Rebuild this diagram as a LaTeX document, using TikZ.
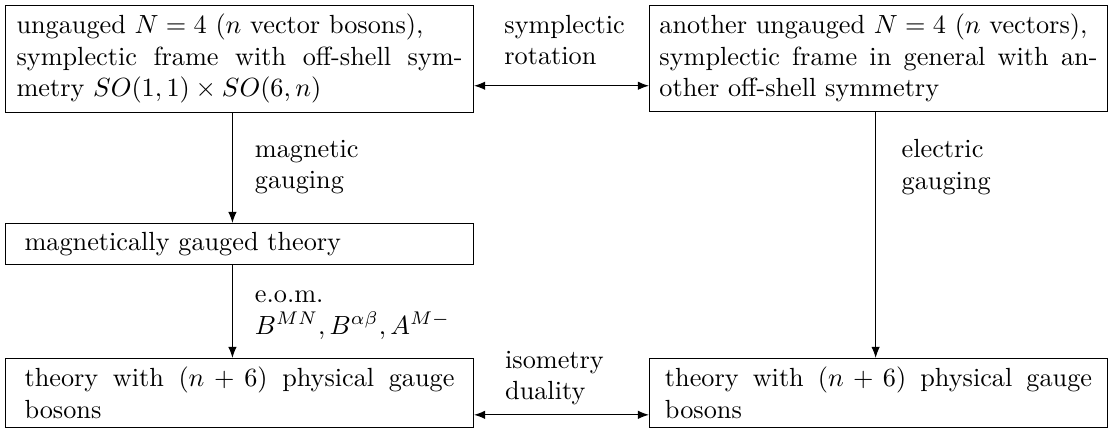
\documentclass[tikz,border=0pt]{standalone}
\usepackage{amsmath,amssymb}
\usepackage{tikz}
\usetikzlibrary{positioning,arrows.meta}

\begin{document}
\begin{tikzpicture}[
        box/.style={draw, anchor=north west, align=justify, inner sep=3.33pt, line width=0.4pt},
        lbl/.style={anchor=west, align=left},
        arrow/.style={-{Latex[length=4.2pt,width=3.2pt]}, line width=0.4pt},
        dblarrow/.style={{Latex[length=4.2pt,width=3.2pt]}-{Latex[length=4.2pt,width=3.2pt]}, line width=0.4pt}
    ]
    \useasboundingbox (0,0) rectangle (14.85,-5.825);

    % top row
    \node[box, minimum width=178.3pt, text width=169.9pt] (ungauged) at (0.067,-0.067) {
        ungauged $N=4$ ($n$ vector bosons),\\
        symplectic frame with off-shell sym-\linebreak
        metry $SO(1,1)\times SO(6,n)$
    };
    \node[box, minimum width=174.5pt, text width=166.9pt] (another) at (8.69,-0.067) {
        another ungauged $N=4$ ($n$ vectors),\\
        symplectic frame in general with an-\linebreak
        other off-shell symmetry
    };

    % left column
    \node[box, align=left, minimum width=178.3pt, text width=163.8pt] (magtheory) at (0.067,-2.986) {magnetically gauged theory};
    \node[box, minimum width=178.3pt, text width=163.8pt] (physleft) at (0.067,-4.793) {
        theory with $(n+6)$ physical gauge\linebreak bosons
    };
    \node[box, minimum width=174.5pt, text width=162.7pt] (physright) at (8.69,-4.793) {
        theory with $(n+6)$ physical gauge\linebreak bosons
    };

    % labels
    \node[lbl] (rotation) at (6.63,-0.536) {symplectic\\rotation};
    \node[lbl] (maggauging) at (3.29,-2.236) {magnetic\\gauging};
    \node[lbl] (elgauging) at (11.95,-2.236) {electric\\gauging};
    \node[lbl] (eom) at (3.29,-4.217) {e.o.m.\\$B^{MN}, B^{\alpha\beta}, A^{M-}$};
    \node[lbl] (isometry) at (6.64,-5.06) {isometry\\duality};

    % arrows
    \draw[dblarrow] ([yshift=10.3pt]ungauged.south east) coordinate (rot) -- (rot -| another.west);
    \draw[arrow] ([xshift=-2.7pt]ungauged.south) -- ([xshift=-2.7pt]magtheory.north);
    \draw[arrow] ([xshift=-2.7pt]magtheory.south) -- ([xshift=-2.7pt]physleft.north);
    \draw[arrow] ([xshift=-1.1pt]another.south) -- ([xshift=-1.1pt]physright.north);
    \draw[dblarrow] ([yshift=5pt]physleft.south east) coordinate (iso) -- (iso -| physright.west);
\end{tikzpicture}
\end{document}
